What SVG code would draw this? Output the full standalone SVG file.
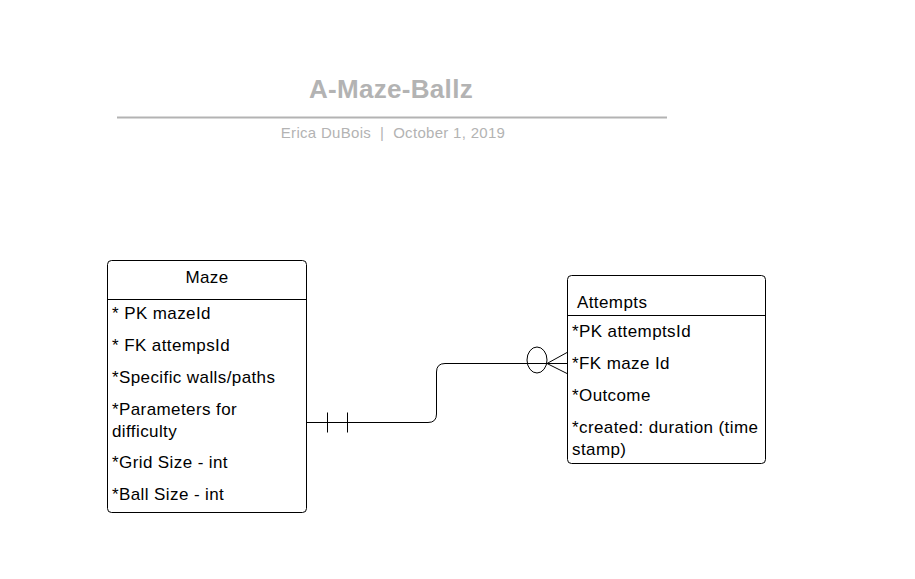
<svg xmlns="http://www.w3.org/2000/svg" width="915" height="579" viewBox="0 0 915 579">
<style>
.box{fill:#fff;stroke:#000;stroke-width:1}
.t{font-family:"Liberation Sans",Arial,sans-serif;font-size:17px;letter-spacing:0.4px;fill:#000}
.ln{fill:none;stroke:#000;stroke-width:1}
</style>
<rect width="915" height="579" fill="#fff"/>
<g id="title">
<text x="391" y="98" text-anchor="middle" style="font-family:'Liberation Sans',Arial,sans-serif;font-size:26px;letter-spacing:0.3px;font-weight:bold;fill:#b3b3b3">A-Maze-Ballz</text>
<line x1="117" y1="117.5" x2="667" y2="117.5" stroke="#b3b3b3" stroke-width="2"/>
<text x="393" y="138" text-anchor="middle" xml:space="preserve" style="font-family:'Liberation Sans',Arial,sans-serif;font-size:15px;letter-spacing:0.3px;fill:#b3b3b3">Erica DuBois  |  October 1, 2019</text>
</g>
<g id="maze">
<rect class="box" x="107.5" y="260.5" width="199" height="252" rx="4"/>
<line class="ln" x1="107.5" y1="299.5" x2="306.5" y2="299.5"/>
<text class="t" x="207" y="283" text-anchor="middle">Maze</text>
<text class="t" x="112" y="319">* PK mazeId</text>
<text class="t" x="112" y="351">* FK attempsId</text>
<text class="t" x="112" y="383">*Specific walls/paths</text>
<text class="t" x="112" y="415">*Parameters for</text>
<text class="t" x="112" y="437">difficulty</text>
<text class="t" x="112" y="468">*Grid Size - int</text>
<text class="t" x="112" y="500">*Ball Size - int</text>
</g>
<g id="attempts">
<rect class="box" x="567.5" y="275.5" width="198" height="188" rx="4"/>
<line class="ln" x1="567.5" y1="315.5" x2="765.5" y2="315.5"/>
<text class="t" x="577" y="308">Attempts</text>
<text class="t" x="572" y="337">*PK attemptsId</text>
<text class="t" x="572" y="369">*FK maze Id</text>
<text class="t" x="572" y="401">*Outcome</text>
<text class="t" x="572" y="433">*created: duration (time</text>
<text class="t" x="572" y="455">stamp)</text>
</g>
<g id="connectors">
<path class="ln" d="M307 422.5 H428 Q436.5 422.5 436.5 414 V372 Q436.5 363.5 445 363.5 H567"/>
<line class="ln" x1="327.5" y1="412.5" x2="327.5" y2="432.5"/>
<line class="ln" x1="347.5" y1="412.5" x2="347.5" y2="432.5"/>
<ellipse class="ln" cx="537" cy="360" rx="10" ry="13"/>
<path class="ln" d="M567 352.5 L547 363.5 L567 373.5"/>
</g>
</svg>
